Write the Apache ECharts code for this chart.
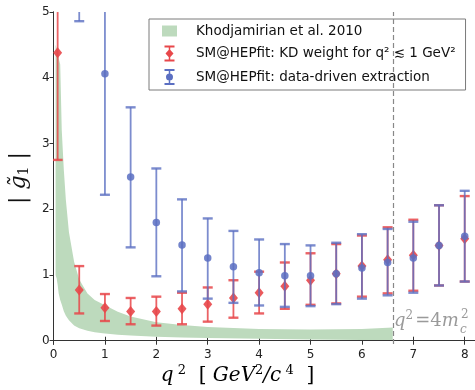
<!DOCTYPE html>
<html>
<head>
<meta charset="utf-8">
<script src="https://cdn.jsdelivr.net/npm/echarts@6.0.0/dist/echarts.min.js"></script>
<style>
  html, body { margin: 0; padding: 0; background: #fff; }
  #chart { width: 475px; height: 390px; }
</style>
</head>
<body>
<div id="chart"></div>
<script>
// Khodjamirian et al. 2010 band
const bandX = [0.04, 0.06, 0.08, 0.1, 0.13, 0.16, 0.2, 0.24, 0.3, 0.4, 0.5, 0.66, 0.8, 1.0, 1.25, 1.5, 2.0, 2.5, 3.0, 4.0, 5.0, 6.0, 6.6];
const bandHi = [4.5, 4.45, 4.4, 4.3, 4.2, 3.2, 2.6, 2.14, 1.65, 1.2, 0.93, 0.72, 0.62, 0.54, 0.44, 0.37, 0.28, 0.24, 0.21, 0.18, 0.17, 0.18, 0.2];
const bandLo = [1.0, 0.95, 0.85, 0.72, 0.62, 0.55, 0.45, 0.38, 0.31, 0.23, 0.19, 0.15, 0.13, 0.11, 0.09, 0.08, 0.06, 0.05, 0.04, 0.03, 0.02, 0.01, 0.01];

// SM@HEPfit: KD weight for q^2 <= 1 GeV^2 (red)
const redX = [0.08, 0.5, 1, 1.5, 2, 2.5, 3, 3.5, 4, 4.5, 5, 5.5, 6, 6.5, 7, 7.5, 8];
const redY = [4.38, 0.77, 0.5, 0.445, 0.445, 0.485, 0.555, 0.65, 0.73, 0.83, 0.92, 1.02, 1.135, 1.23, 1.3, 1.45, 1.55];
const redLo = [2.75, 0.415, 0.3, 0.25, 0.23, 0.25, 0.29, 0.35, 0.415, 0.485, 0.546, 0.567, 0.67, 0.72, 0.76, 0.84, 0.9];
const redHi = [6.0, 1.135, 0.71, 0.65, 0.67, 0.73, 0.81, 0.92, 1.05, 1.19, 1.33, 1.47, 1.6, 1.725, 1.84, 2.06, 2.2];

// SM@HEPfit: data-driven extraction (blue)
const blueX = [0.5, 1, 1.5, 2, 2.5, 3, 3.5, 4, 4.5, 5, 5.5, 6, 6.5, 7, 7.5, 8];
const blueY = [6.2, 4.06, 2.49, 1.8, 1.455, 1.26, 1.125, 1.035, 0.99, 0.99, 1.02, 1.105, 1.19, 1.26, 1.45, 1.59];
const blueLo = [4.86, 2.22, 1.42, 0.98, 0.75, 0.64, 0.576, 0.536, 0.515, 0.526, 0.556, 0.64, 0.69, 0.73, 0.84, 0.9];
const blueHi = [7.6, 5.9, 3.55, 2.62, 2.15, 1.86, 1.67, 1.54, 1.47, 1.45, 1.49, 1.62, 1.7, 1.81, 2.06, 2.28];

const xTicks = [0, 1, 2, 3, 4, 5, 6, 7, 8];
const yTicks = [0, 1, 2, 3, 4, 5];
const charmLine = 6.6;

const X_MIN = 0, X_MAX = 8.2, Y_MIN = -0.05, Y_MAX = 5;

const NAME_BAND = 'Khodjamirian et al. 2010';
const NAME_RED = 'SM@HEPfit: KD weight for q² ≲ 1 GeV²';
const NAME_BLUE = 'SM@HEPfit: data-driven extraction';

const GREEN = '#bddabd';
const RED = '#e8474a';
const BLUE = '#5b6fc2';
const AXIS = '#333';

function errorBars(color, opacity) {
  return function (params, api) {
    const x = api.value(0);
    const lo = api.value(1);
    const hi = api.value(2);
    const pTop = api.coord([x, Math.min(hi, Y_MAX)]);
    const pBot = api.coord([x, Math.max(lo, Y_MIN)]);
    const style = { stroke: color, lineWidth: 1.8, opacity: opacity };
    const capStyle = { stroke: color, lineWidth: 2.4, opacity: opacity };
    const children = [
      { type: 'line', shape: { x1: pTop[0], y1: pTop[1], x2: pBot[0], y2: pBot[1] }, style: style }
    ];
    if (hi <= Y_MAX) {
      children.push({ type: 'line', shape: { x1: pTop[0] - 5, y1: pTop[1], x2: pTop[0] + 5, y2: pTop[1] }, style: capStyle });
    }
    if (lo >= Y_MIN) {
      children.push({ type: 'line', shape: { x1: pBot[0] - 5, y1: pBot[1], x2: pBot[0] + 5, y2: pBot[1] }, style: capStyle });
    }
    return { type: 'group', children: children };
  };
}

function bandShape(params, api) {
  if (params.dataIndex !== 0) return null;
  const upper = bandX.map((x, i) => api.coord([x, bandHi[i]]));
  const lower = bandX.map((x, i) => api.coord([x, bandLo[i]])).reverse();
  return {
    type: 'polygon',
    shape: { points: upper.concat(lower) },
    style: { fill: GREEN }
  };
}

const chart = echarts.init(document.getElementById('chart'), null, { renderer: 'canvas' });

const serifIt = { fontFamily: 'DejaVu Serif', fontStyle: 'italic', color: '#111' };

const option = {
  animation: false,
  backgroundColor: '#fff',
  grid: { left: 49, top: 12, width: 427, height: 332 },
  legend: {
    orient: 'vertical',
    left: 149,
    top: 19,
    padding: [5, 10, 5, 13],
    itemWidth: 15,
    itemHeight: 16,
    itemGap: 7.5,
    borderColor: '#7a7a7a',
    borderWidth: 1,
    backgroundColor: '#fff',
    selectedMode: false,
    textStyle: { fontFamily: 'DejaVu Sans', fontSize: 13.5, color: '#111', padding: [0, 0, 0, 14] },
    data: [
      { name: NAME_BAND, icon: 'path://M0,0H15V11H0Z', itemStyle: { color: GREEN } },
      { name: NAME_RED, icon: 'path://M0,0H10V2H0Z M4.25,0H5.75V16H4.25Z M0,14H10V16H0Z M5,3.5L9,8L5,12.5L1,8Z', itemStyle: { color: RED } },
      { name: NAME_BLUE, icon: 'path://M0,0H10V2H0Z M4.25,0H5.75V16H4.25Z M0,14H10V16H0Z M8.5,8A3.5,3.5,0,1,1,1.5,8A3.5,3.5,0,1,1,8.5,8Z', itemStyle: { color: BLUE } }
    ]
  },
  xAxis: [
    {
      type: 'value',
      min: X_MIN,
      max: X_MAX,
      position: 'bottom',
      axisLine: { lineStyle: { color: AXIS, width: 1 } },
      axisTick: { inside: true, length: 4, lineStyle: { color: AXIS }, customValues: xTicks },
      axisLabel: { customValues: xTicks, color: '#222', fontSize: 12, margin: 5, fontFamily: 'DejaVu Sans' },
      splitLine: { show: false }
    },
    {
      type: 'value',
      min: X_MIN,
      max: X_MAX,
      position: 'top',
      axisLine: { lineStyle: { color: AXIS, width: 1 } },
      axisTick: { inside: true, length: 4, lineStyle: { color: AXIS }, customValues: xTicks },
      axisLabel: { show: false },
      splitLine: { show: false }
    }
  ],
  yAxis: [
    {
      type: 'value',
      min: Y_MIN,
      max: Y_MAX,
      position: 'left',
      axisLine: { show: true, lineStyle: { color: AXIS, width: 1 } },
      axisTick: { show: true, inside: false, length: 3, lineStyle: { color: AXIS }, customValues: yTicks },
      axisLabel: { customValues: yTicks, color: '#222', fontSize: 12, margin: 4, fontFamily: 'DejaVu Sans' },
      splitLine: { show: false },
      name: '{r|| }{i|g̃}{s|1}{r| |}',
      nameLocation: 'middle',
      nameRotate: 90,
      nameGap: 16,
      nameTextStyle: {
        rich: {
          i: Object.assign({ fontSize: 22 }, serifIt),
          r: { fontFamily: 'DejaVu Serif', fontSize: 22, color: '#111' },
          s: { fontFamily: 'DejaVu Serif', fontSize: 14, color: '#111', padding: [10, 0, 0, 0] }
        }
      }
    },
    {
      type: 'value',
      min: Y_MIN,
      max: Y_MAX,
      position: 'right',
      axisLine: { show: true, lineStyle: { color: AXIS, width: 1 } },
      axisTick: { show: true, inside: true, length: 4, lineStyle: { color: AXIS }, customValues: yTicks },
      axisLabel: { show: false },
      splitLine: { show: false }
    }
  ],
  series: [
    {
      name: NAME_BAND,
      type: 'custom',
      clip: true,
      renderItem: bandShape,
      encode: { x: 0, y: [1, 2] },
      data: bandX.map((x, i) => [x, bandLo[i], bandHi[i]]),
      itemStyle: { color: GREEN },
      z: 1,
      markLine: {
        silent: true,
        symbol: 'none',
        label: { show: false },
        lineStyle: { color: '#888', type: [5, 3], width: 1.2 },
        data: [{ xAxis: charmLine }]
      }
    },
    {
      name: NAME_RED,
      type: 'custom',
      clip: true,
      renderItem: errorBars(RED, 0.85),
      encode: { x: 0, y: [1, 2] },
      data: redX.map((x, i) => [x, redLo[i], redHi[i]]),
      itemStyle: { color: RED },
      z: 2
    },
    {
      name: NAME_RED,
      type: 'scatter',
      symbol: 'diamond',
      symbolSize: [9, 11],
      data: redX.map((x, i) => [x, redY[i]]),
      itemStyle: { color: RED, opacity: 0.9 },
      z: 3
    },
    {
      name: NAME_BLUE,
      type: 'custom',
      clip: true,
      renderItem: errorBars(BLUE, 0.8),
      encode: { x: 0, y: [1, 2] },
      data: blueX.map((x, i) => [x, blueLo[i], blueHi[i]]),
      itemStyle: { color: BLUE },
      z: 4
    },
    {
      name: NAME_BLUE,
      type: 'scatter',
      symbol: 'circle',
      symbolSize: 7.5,
      data: blueX.map((x, i) => [x, blueY[i]]),
      itemStyle: { color: BLUE, opacity: 0.85 },
      z: 5
    }
  ],
  graphic: [
    {
      type: 'text',
      left: 394,
      top: 310,
      style: {
        text: '{i|q}{s|2}{r|=4}{i|m}',
        fill: '#9a9a9a',
        rich: {
          i: { fontFamily: 'DejaVu Serif', fontStyle: 'italic', fontSize: 18, color: '#9a9a9a' },
          r: { fontFamily: 'DejaVu Serif', fontSize: 18, color: '#9a9a9a', padding: [0, 0, 0, 2] },
          s: { fontFamily: 'DejaVu Serif', fontSize: 12, color: '#9a9a9a', padding: [0, 0, 10, 0] }
        }
      }
    },
    {
      type: 'text',
      left: 461,
      top: 309,
      style: { text: '2', fill: '#9a9a9a', font: '12px "DejaVu Serif"' }
    },
    {
      type: 'text',
      left: 460,
      top: 324,
      style: { text: 'c', fill: '#9a9a9a', font: 'italic 12px "DejaVu Serif"' }
    },
    {
      type: 'text',
      left: 'center',
      top: 364,
      style: {
        text: '{i|q}{s| 2}{r|  [ }{i|GeV}{s|2}{i|/c}{s| 4}{r|  ]}',
        rich: {
          i: { fontFamily: 'DejaVu Serif', fontStyle: 'italic', fontSize: 20, color: '#111' },
          r: { fontFamily: 'DejaVu Serif', fontSize: 20, color: '#111' },
          s: { fontFamily: 'DejaVu Serif', fontSize: 13, color: '#111', padding: [0, 0, 10, 0] }
        }
      }
    }
  ]
};

chart.setOption(option);
</script>
</body>
</html>
